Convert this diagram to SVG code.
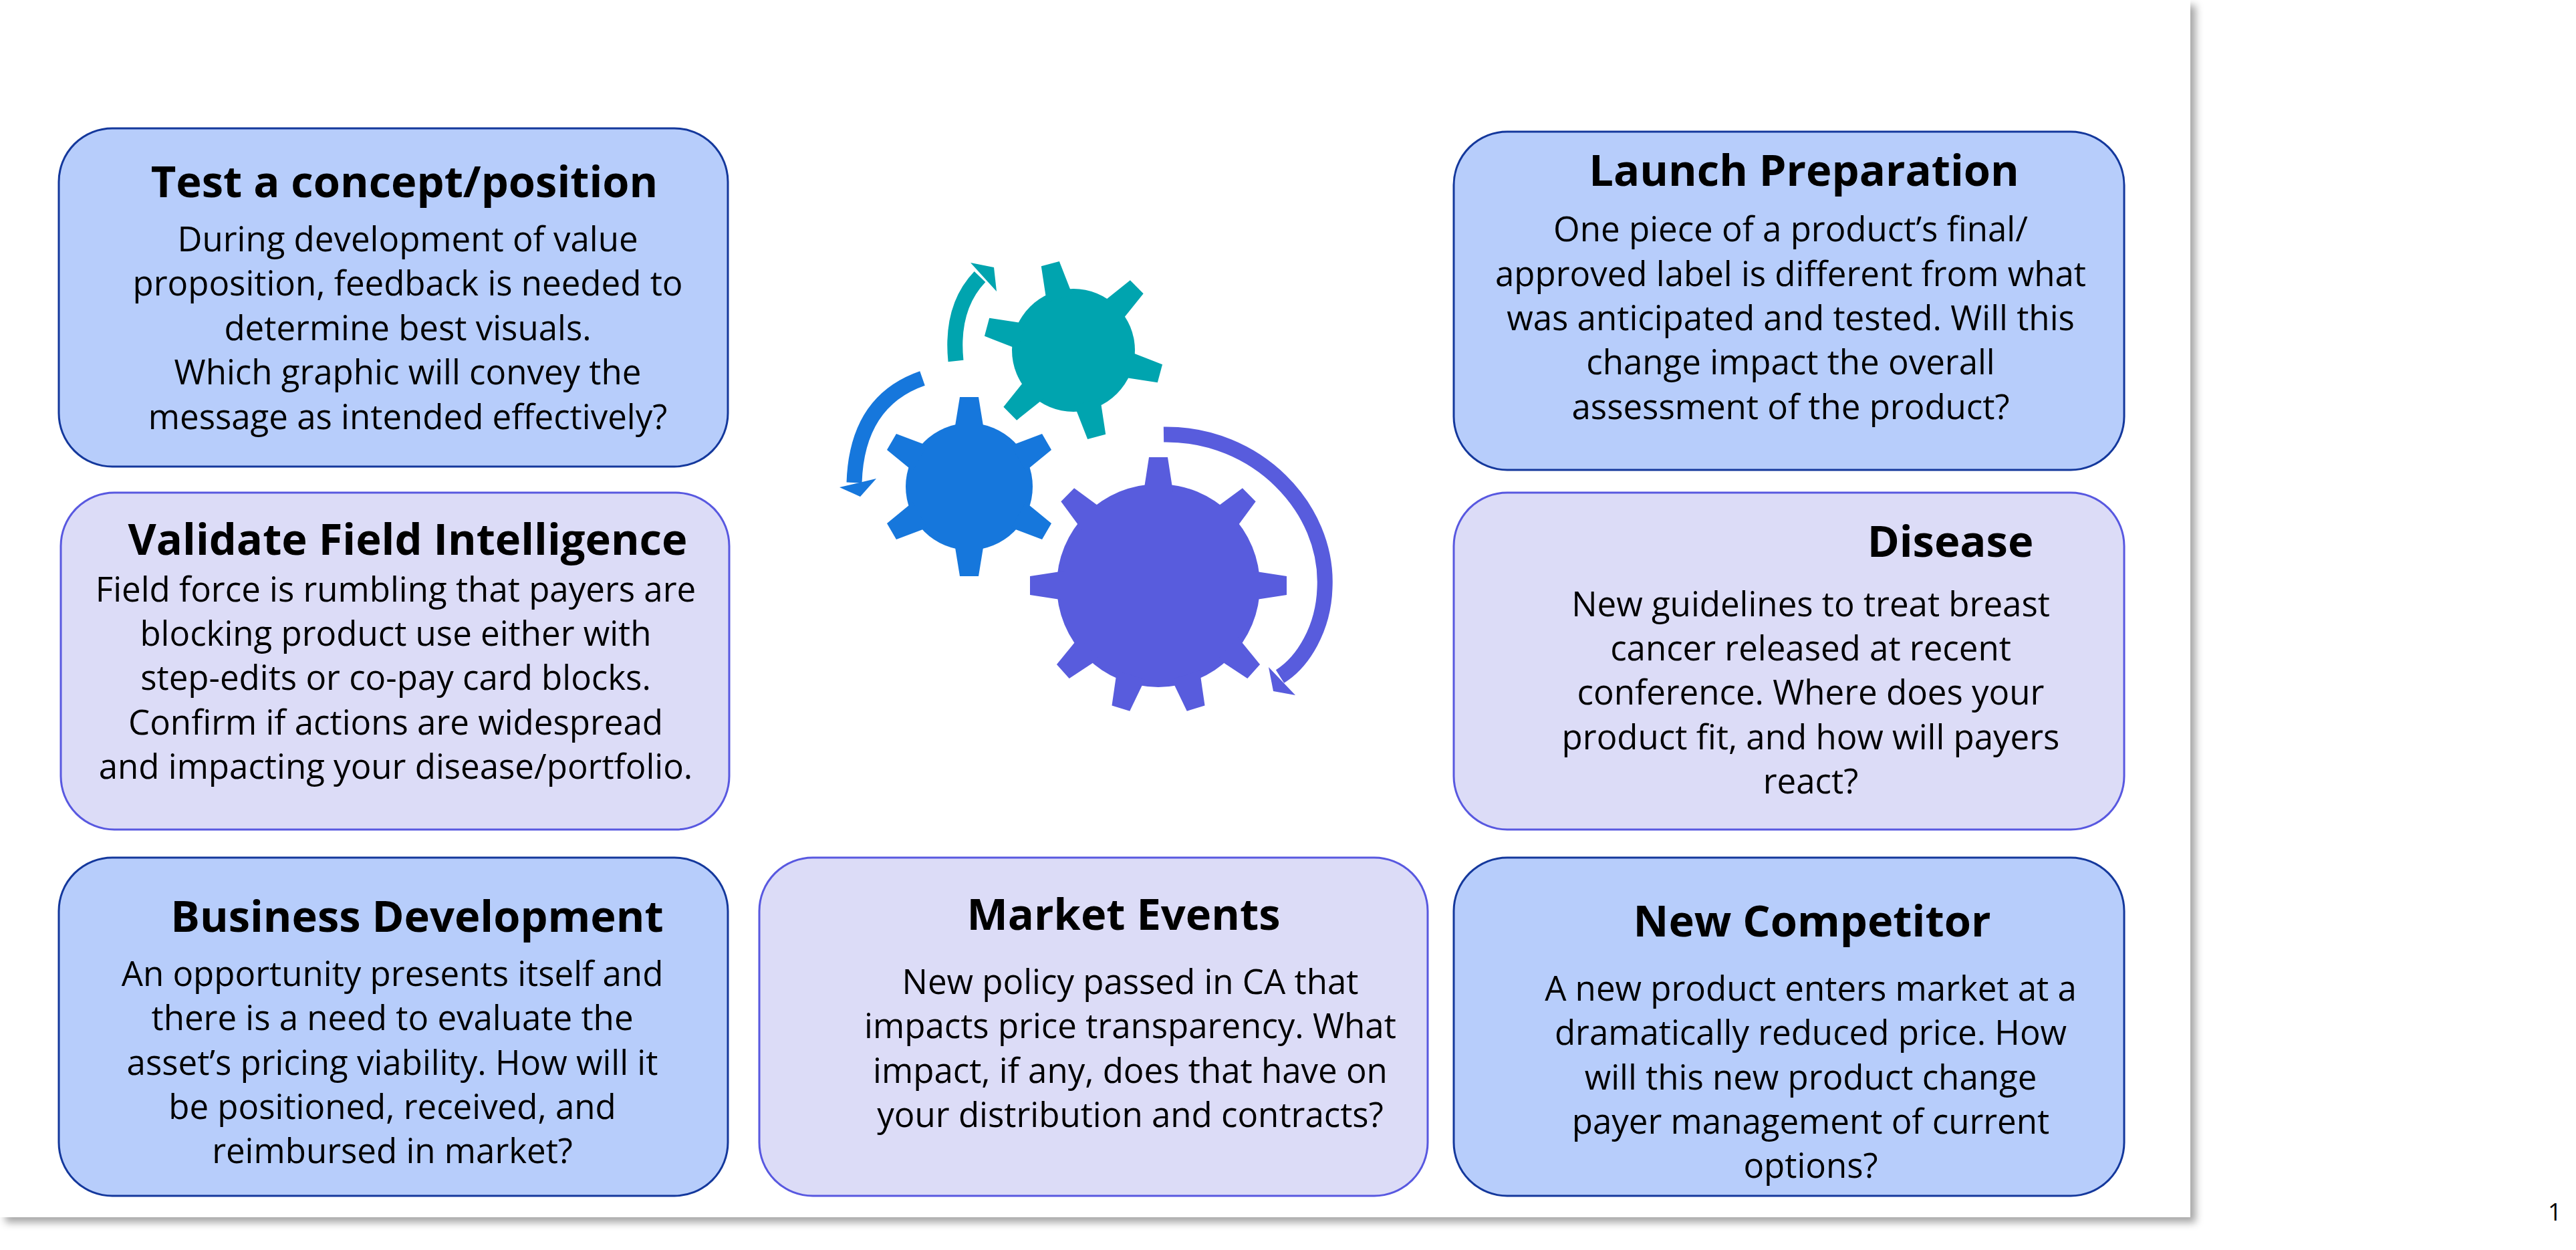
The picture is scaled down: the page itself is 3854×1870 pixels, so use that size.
<svg xmlns="http://www.w3.org/2000/svg" width="3854" height="1870" viewBox="0 0 3854 1870">
<defs>
<filter id="sh" x="-5%" y="-5%" width="110%" height="110%"><feDropShadow dx="8" dy="8" stdDeviation="6" flood-color="#000" flood-opacity="0.35"/></filter>
<polygon id="tt" points="-20,-80 -14,-134 14,-134 20,-80"/>
<style>
.b{fill:#b7cdfb;stroke:#14389c;stroke-width:3}
.l{fill:#dcdcf7;stroke:#5858e0;stroke-width:3}
.t{font-family:"Open Sans","Noto Sans",sans-serif;font-weight:700;font-size:65px;fill:#000;text-anchor:middle}
.x{font-family:"Open Sans","Noto Sans",sans-serif;font-size:51px;fill:#000;text-anchor:middle}
</style>
</defs>
<rect width="3854" height="1870" fill="#fff"/>
<rect x="0" y="0" width="3277" height="1821" fill="#fff" filter="url(#sh)"/>
<text x="3812" y="1826" font-family="Open Sans,sans-serif" font-size="36">1</text>

<g id="gears">
<g id="teal" fill="#00a4af" transform="translate(1606,524)">
<circle r="92"/>
<use href="#tt" transform="rotate(-15)"/><use href="#tt" transform="rotate(45)"/><use href="#tt" transform="rotate(105)"/><use href="#tt" transform="rotate(165)"/><use href="#tt" transform="rotate(225)"/><use href="#tt" transform="rotate(285)"/>
</g>
<g id="blue" fill="#1677dc" transform="translate(1450,728)">
<circle r="95"/>
<g id="bt"><polygon points="-22,-85 -14,-134 14,-134 22,-85"/></g>
<use href="#bt" transform="rotate(60)"/><use href="#bt" transform="rotate(120)"/><use href="#bt" transform="rotate(180)"/><use href="#bt" transform="rotate(240)"/><use href="#bt" transform="rotate(300)"/>
</g>
<g id="purple" fill="#585cdd" transform="translate(1733,876)">
<circle r="152"/>
<g id="pt"><polygon points="-22,-140 -14,-192 14,-192 22,-140"/></g>
<use href="#pt" transform="rotate(45)"/><use href="#pt" transform="rotate(90)"/><use href="#pt" transform="rotate(132)"/><use href="#pt" transform="rotate(163)"/><use href="#pt" transform="rotate(197)"/><use href="#pt" transform="rotate(228)"/><use href="#pt" transform="rotate(270)"/><use href="#pt" transform="rotate(315)"/>
</g>
</g>

<g id="connectors" fill="none" stroke-width="23">
<path d="M1430,540 Q1422,460 1466,414" stroke="#00a4af"/>
<polygon points="1452,393 1487,400 1491,436" fill="#00a4af"/>
<path d="M1380,566 Q1282,600 1278,722" stroke="#1677dc"/>
<polygon points="1256,729 1287,743 1311,716" fill="#1677dc"/>
<path d="M1741,650 C1880,648 1988,760 1982,880 C1980,940 1950,990 1915,1012" stroke="#585cdd"/>
<polygon points="1898,998 1905,1034 1938,1040" fill="#585cdd"/>
</g>

<g id="n1"><rect class="b" x="88" y="192" width="1001" height="506" rx="80"/>
<text class="t" x="605" y="295">Test a concept/position</text>
<text class="x" x="610" y="376">During development of value</text>
<text class="x" x="610" y="442">proposition, feedback is needed to</text>
<text class="x" x="610" y="509">determine best visuals.</text>
<text class="x" x="610" y="575">Which graphic will convey the</text>
<text class="x" x="610" y="642">message as intended effectively?</text></g>

<g id="n2"><rect class="l" x="91" y="737" width="1000" height="504" rx="80"/>
<text class="t" x="610" y="830">Validate Field Intelligence</text>
<text class="x" x="592" y="900">Field force is rumbling that payers are</text>
<text class="x" x="592" y="966">blocking product use either with</text>
<text class="x" x="592" y="1032">step-edits or co-pay card blocks.</text>
<text class="x" x="592" y="1099">Confirm if actions are widespread</text>
<text class="x" x="592" y="1165">and impacting your disease/portfolio.</text></g>

<g id="n3"><rect class="b" x="88" y="1283" width="1001" height="506" rx="80"/>
<text class="t" x="624" y="1394">Business Development</text>
<text class="x" x="587" y="1475">An opportunity presents itself and</text>
<text class="x" x="587" y="1541">there is a need to evaluate the</text>
<text class="x" x="587" y="1608">asset’s pricing viability. How will it</text>
<text class="x" x="587" y="1674">be positioned, received, and</text>
<text class="x" x="587" y="1740">reimbursed in market?</text></g>

<g id="n4"><rect class="l" x="1136" y="1283" width="1000" height="506" rx="80"/>
<text class="t" x="1681" y="1391">Market Events</text>
<text class="x" x="1691" y="1487">New policy passed in CA that</text>
<text class="x" x="1691" y="1553">impacts price transparency. What</text>
<text class="x" x="1691" y="1620">impact, if any, does that have on</text>
<text class="x" x="1691" y="1686">your distribution and contracts?</text></g>

<g id="n5"><rect class="b" x="2175" y="197" width="1003" height="506" rx="80"/>
<text class="t" x="2699" y="278">Launch Preparation</text>
<text class="x" x="2679" y="361">One piece of a product’s final/</text>
<text class="x" x="2679" y="428">approved label is different from what</text>
<text class="x" x="2679" y="494">was anticipated and tested. Will this</text>
<text class="x" x="2679" y="560">change impact the overall</text>
<text class="x" x="2679" y="627">assessment of the product?</text></g>

<g id="n6"><rect class="l" x="2175" y="737" width="1003" height="504" rx="80"/>
<text class="t" x="2918" y="833">Disease</text>
<text class="x" x="2709" y="922">New guidelines to treat breast</text>
<text class="x" x="2709" y="988">cancer released at recent</text>
<text class="x" x="2709" y="1054">conference. Where does your</text>
<text class="x" x="2709" y="1121">product fit, and how will payers</text>
<text class="x" x="2709" y="1187">react?</text></g>

<g id="n7"><rect class="b" x="2175" y="1283" width="1003" height="506" rx="80"/>
<text class="t" x="2711" y="1401">New Competitor</text>
<text class="x" x="2709" y="1497">A new product enters market at a</text>
<text class="x" x="2709" y="1563">dramatically reduced price. How</text>
<text class="x" x="2709" y="1630">will this new product change</text>
<text class="x" x="2709" y="1696">payer management of current</text>
<text class="x" x="2709" y="1762">options?</text></g>
</svg>
